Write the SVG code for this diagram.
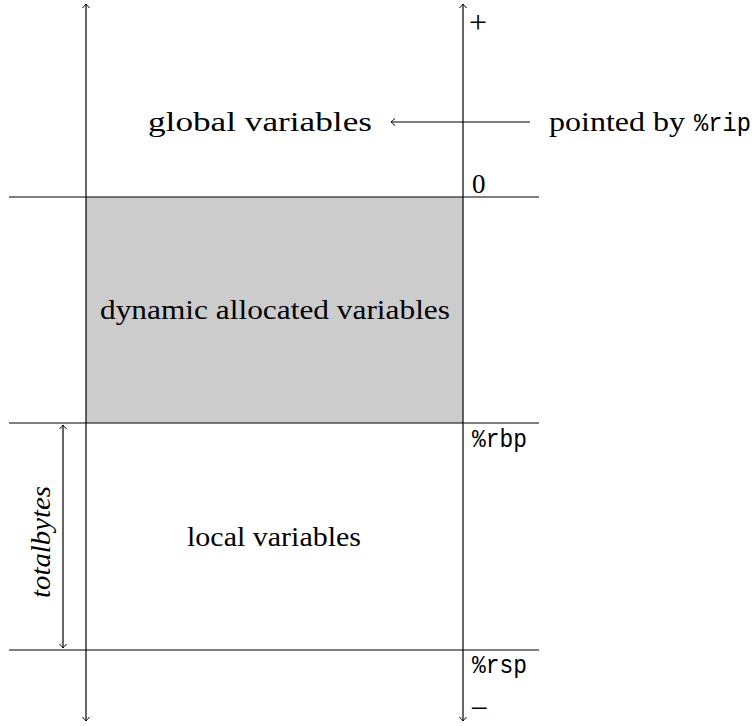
<svg xmlns="http://www.w3.org/2000/svg" width="756" height="726" viewBox="0 0 756 726">
<defs>
<marker id="ah" viewBox="-6 -6 12 12" markerWidth="12" markerHeight="12" refX="0" refY="0" orient="auto-start-reverse" markerUnits="userSpaceOnUse">
<path d="M-4,-3.5 Q-1,-0.8 0,0 Q-1,0.8 -4,3.5" fill="none" stroke="#000" stroke-width="1"/>
</marker>
</defs>
<style>
.ln{stroke:#000;stroke-width:1.2;fill:none}
.t{font-family:"Liberation Serif","DejaVu Serif",serif;font-size:27px;fill:#000}
.m{font-family:"Liberation Mono","DejaVu Sans Mono",monospace;font-size:25px;fill:#000}
.big{font-family:"Liberation Serif","DejaVu Serif",serif;font-size:32px;fill:#000}
</style>
<g id="heap">
<rect x="86" y="197" width="377" height="226" fill="#cccccc"/>
<text class="t" x="275" y="319" text-anchor="middle" textLength="350" lengthAdjust="spacingAndGlyphs">dynamic allocated variables</text>
</g>
<g id="global">
<text class="t" x="260" y="131" text-anchor="middle" textLength="224" lengthAdjust="spacingAndGlyphs">global variables</text>
</g>
<g id="local">
<text class="t" x="274" y="546" text-anchor="middle" textLength="174" lengthAdjust="spacingAndGlyphs">local variables</text>
</g>
<g id="pointer">
<text class="t" x="549" y="131" textLength="136" lengthAdjust="spacingAndGlyphs">pointed by</text>
<text class="m" x="694" y="131" textLength="57" lengthAdjust="spacingAndGlyphs">%rip</text>
</g>
<g id="connectors">
<line class="ln" x1="86" y1="721" x2="86" y2="4" marker-end="url(#ah)" marker-start="url(#ah)"/>
<line class="ln" x1="463" y1="721" x2="463" y2="4" marker-end="url(#ah)" marker-start="url(#ah)"/>
<line class="ln" x1="9" y1="197" x2="539" y2="197"/>
<line class="ln" x1="9" y1="423" x2="539" y2="423"/>
<line class="ln" x1="9" y1="650" x2="539" y2="650"/>
<line class="ln" x1="530" y1="122" x2="391" y2="122" marker-end="url(#ah)"/>
<line class="ln" x1="63" y1="425" x2="63" y2="648" marker-end="url(#ah)" marker-start="url(#ah)"/>
</g>
<g id="labels">
<text class="big" x="469" y="33">+</text>
<text class="t" x="472" y="193">0</text>
<text class="m" x="472" y="447" textLength="55" lengthAdjust="spacingAndGlyphs">%rbp</text>
<text class="m" x="472" y="673" textLength="55" lengthAdjust="spacingAndGlyphs">%rsp</text>
<text class="big" x="470" y="719">−</text>
<text class="t" x="0" y="0" font-style="italic" text-anchor="middle" transform="translate(50,542) rotate(-90)" textLength="112" lengthAdjust="spacingAndGlyphs">totalbytes</text>
</g>
</svg>
